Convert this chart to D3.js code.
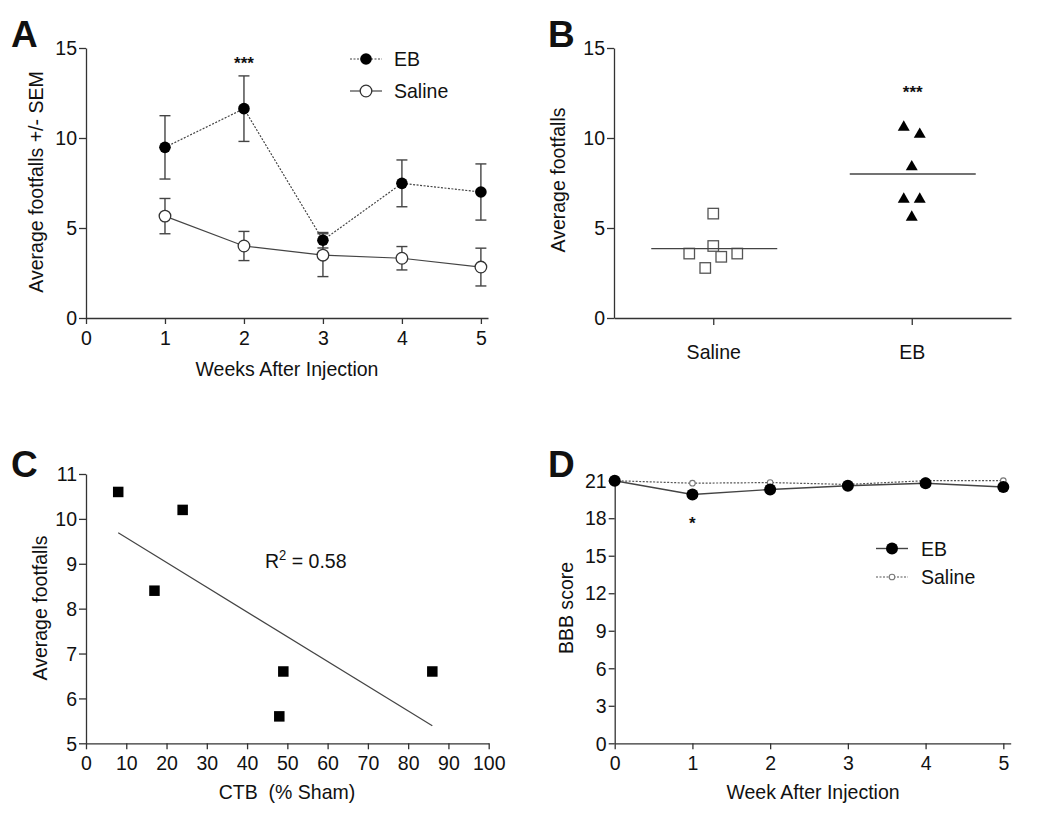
<!DOCTYPE html>
<html><head><meta charset="utf-8">
<script src="https://cdn.jsdelivr.net/npm/d3@7"></script>
<style>
body{margin:0;background:#fff;}
svg{display:block;}
text{font-family:"Liberation Sans",Arial,sans-serif;fill:#111;white-space:pre;}
.domain,.tick line{stroke:#333;stroke-width:1.3;}
</style></head><body>
<svg id="c" width="1050" height="830"></svg>
<script>
// ---------- DATA ----------
// Panel A
const weeksA = [1, 2, 3, 4, 5];
const ebMeanA = [9.48, 11.63, 4.32, 7.48, 7.0];
const ebSemA = [1.76, 1.82, 0.43, 1.30, 1.56];
const salMeanA = [5.66, 4.0, 3.49, 3.32, 2.83];
const salSemA = [0.98, 0.81, 1.19, 0.65, 1.05];
const ticksAx = [0, 1, 2, 3, 4, 5];
const ticksAy = [0, 5, 10, 15];
// Panel B
const groupsB = ["Saline", "EB"];
const salineB = [5.8, 4.0, 3.58, 2.78, 3.4, 3.58];
const ebB = [10.6, 10.2, 8.4, 6.6, 6.6, 5.6];
const ticksBy = [0, 5, 10, 15];
// Panel C
const ctbC = [8, 17, 24, 48, 49, 86];
const footC = [10.6, 8.4, 10.2, 5.6, 6.6, 6.6];
const ticksCx = [0, 10, 20, 30, 40, 50, 60, 70, 80, 90, 100];
const ticksCy = [5, 6, 7, 8, 9, 10, 11];
// Panel D
const weeksD = [0, 1, 2, 3, 4, 5];
const ebD = [21, 19.9, 20.3, 20.6, 20.8, 20.5];
const salD = [21, 20.8, 20.85, 20.7, 21, 21];
const ticksDy = [0, 3, 6, 9, 12, 15, 18, 21];

// ---------- DRAW ----------
const svg = d3.select("#c");
const F = 21, SX = 0.93;

// horizontally condense a text element about its own x anchor
function squeeze(sel){
  sel.each(function(){
    const t = d3.select(this);
    const x = +t.attr("x") || 0;
    t.attr("transform", `translate(${x},0) scale(${SX},1) translate(${-x},0)`);
  });
}
function axisStyle(g){
  g.attr("font-family", null);
  g.selectAll(".tick text").attr("font-size", F).attr("fill","#111").call(squeeze);
}
function panelLetter(t, x, y){
  svg.append("text").attr("x", x).attr("y", y).text(t)
    .attr("font-size", 37).attr("font-weight", "bold");
}
function yLabel(t, x, y){
  svg.append("text").attr("transform", `translate(${x},${y}) rotate(-90) scale(${SX},1)`)
    .attr("text-anchor","middle").attr("font-size", F).text(t);
}
function xLabel(t, x, y){
  svg.append("text").attr("x", x).attr("y", y).attr("text-anchor","middle").attr("font-size", F).text(t).call(squeeze);
}
function plainText(t, x, y, anchor){
  return svg.append("text").attr("x", x).attr("y", y).attr("text-anchor", anchor || "start").attr("font-size", F).text(t).call(squeeze);
}

// ===== Panel A =====
{
  const x = d3.scaleLinear().domain([0, 5.09]).range([86, 488]);
  const y = d3.scaleLinear().domain([0, 15]).range([318, 48]);
  svg.append("g").attr("transform","translate(0,318)")
    .call(d3.axisBottom(x).tickValues(ticksAx).tickFormat(d3.format("d")).tickSize(6).tickSizeOuter(0).tickPadding(6)).call(axisStyle);
  svg.append("g").attr("transform","translate(86,0)")
    .call(d3.axisLeft(y).tickValues(ticksAy).tickSize(7).tickSizeOuter(0).tickPadding(2)).call(axisStyle);
  const eb = weeksA.map((w,i)=>({x:w, m:ebMeanA[i], s:ebSemA[i]}));
  const sal = weeksA.map((w,i)=>({x:w, m:salMeanA[i], s:salSemA[i]}));
  const line = d3.line().x(d=>x(d.x)).y(d=>y(d.m));
  function errs(data){
    const g = svg.append("g").attr("stroke","#444").attr("stroke-width",1.4);
    data.forEach(d=>{
      g.append("line").attr("x1",x(d.x)).attr("x2",x(d.x)).attr("y1",y(d.m-d.s)).attr("y2",y(d.m+d.s));
      [d.m-d.s, d.m+d.s].forEach(v=>g.append("line").attr("x1",x(d.x)-5.5).attr("x2",x(d.x)+5.5).attr("y1",y(v)).attr("y2",y(v)));
    });
  }
  errs(sal); errs(eb);
  svg.append("path").datum(sal).attr("d",line).attr("fill","none").attr("stroke","#444").attr("stroke-width",1.2);
  svg.append("path").datum(eb).attr("d",line).attr("fill","none").attr("stroke","#444").attr("stroke-width",1.2).attr("stroke-dasharray","2,1.5");
  svg.append("g").selectAll("circle").data(sal).join("circle")
    .attr("cx",d=>x(d.x)).attr("cy",d=>y(d.m)).attr("r",5.8).attr("fill","#fff").attr("stroke","#333").attr("stroke-width",1.3);
  svg.append("g").selectAll("circle").data(eb).join("circle")
    .attr("cx",d=>x(d.x)).attr("cy",d=>y(d.m)).attr("r",5.8).attr("fill","#000");
  svg.append("text").attr("x", x(2)).attr("y", 69).attr("text-anchor","middle").attr("font-size",17).attr("font-weight","bold").text("***");
  // legend
  const lg = svg.append("g");
  lg.append("line").attr("x1",350).attr("x2",382).attr("y1",59).attr("y2",59).attr("stroke","#444").attr("stroke-width",1.2).attr("stroke-dasharray","2,1.5");
  lg.append("circle").attr("cx",366).attr("cy",59).attr("r",5.8).attr("fill","#000");
  plainText("EB", 394, 66.5);
  lg.append("line").attr("x1",350).attr("x2",382).attr("y1",91).attr("y2",91).attr("stroke","#444").attr("stroke-width",1.2);
  lg.append("circle").attr("cx",366).attr("cy",91).attr("r",5.8).attr("fill","#fff").attr("stroke","#333").attr("stroke-width",1.3);
  plainText("Saline", 394, 98.5);
  xLabel("Weeks After Injection", 287, 376);
  yLabel("Average footfalls +/- SEM", 43, 182);
  panelLetter("A", 11, 47);
}

// ===== Panel B =====
{
  const x = d3.scalePoint().domain(groupsB).range([614, 1011]).padding(0.5);
  const y = d3.scaleLinear().domain([0, 15]).range([318, 48]);
  svg.append("g").attr("transform","translate(0,318)")
    .call(d3.axisBottom(x).tickSize(7).tickSizeOuter(0).tickPadding(19)).call(axisStyle);
  svg.append("g").attr("transform","translate(614,0)")
    .call(d3.axisLeft(y).tickValues(ticksBy).tickSize(7).tickSizeOuter(0).tickPadding(2)).call(axisStyle);
  const size = 10.5;
  // simple column-scatter layout: points close in value share a row and are spread sideways
  function swarm(vals){
    const pts = vals.map((v,i)=>({v, i})).sort((a,b)=>a.v-b.v || a.i-b.i);
    const rows = [];
    pts.forEach(p=>{
      const r = rows[rows.length-1];
      if(r && Math.abs(y(r[0].v)-y(p.v)) < 12) r.push(p); else rows.push([p]);
    });
    rows.forEach(r=>{
      const n = r.length, step = 8*n;
      let order = r.slice();
      if(n % 2 === 1 && n > 1){ const mx = order.pop(); order.splice((n-1)/2, 0, mx); }
      else { order.sort((a,b)=>a.i-b.i); }
      order.forEach((p,k)=>{ p.dx = (k-(n-1)/2)*step; });
    });
    return pts;
  }
  const sp = swarm(salineB), ep = swarm(ebB);
  svg.append("g").selectAll("rect").data(sp).join("rect")
    .attr("x",d=>x("Saline")+d.dx-size/2).attr("y",d=>y(d.v)-size/2).attr("width",size).attr("height",size)
    .attr("fill","#fff").attr("stroke","#555").attr("stroke-width",1.3);
  const tri = d3.symbol().type(d3.symbolTriangle).size(62);
  svg.append("g").selectAll("path").data(ep).join("path")
    .attr("transform",d=>`translate(${x("EB")+d.dx},${y(d.v)})`).attr("d",tri).attr("fill","#000");
  [["Saline", d3.mean(salineB)],["EB", d3.mean(ebB)]].forEach(([g,m])=>{
    svg.append("line").attr("x1",x(g)-62).attr("x2",x(g)+64).attr("y1",y(m)).attr("y2",y(m)).attr("stroke","#444").attr("stroke-width",1.3);
  });
  svg.append("text").attr("x", x("EB")+1).attr("y", 98).attr("text-anchor","middle").attr("font-size",17).attr("font-weight","bold").text("***");
  yLabel("Average footfalls", 565, 180);
  panelLetter("B", 548, 47);
}

// ===== Panel C =====
{
  const x = d3.scaleLinear().domain([0, 100]).range([86, 488.7]);
  const y = d3.scaleLinear().domain([5, 11]).range([743.3, 474]);
  svg.append("g").attr("transform","translate(0,743.3)")
    .call(d3.axisBottom(x).tickValues(ticksCx).tickFormat(d3.format("d")).tickSize(6).tickSizeOuter(0).tickPadding(6)).call(axisStyle);
  svg.append("g").attr("transform","translate(86,0)")
    .call(d3.axisLeft(y).tickValues(ticksCy).tickFormat(d3.format("d")).tickSize(7).tickSizeOuter(0).tickPadding(2)).call(axisStyle);
  const pts = ctbC.map((c,i)=>({x:c, y:footC[i]}));
  const mx = d3.mean(ctbC), my = d3.mean(footC);
  const sxy = d3.sum(pts, p=>(p.x-mx)*(p.y-my)), sxx = d3.sum(pts, p=>(p.x-mx)**2), syy = d3.sum(pts, p=>(p.y-my)**2);
  const slope = sxy/sxx, icpt = my - slope*mx;
  const r2 = sxy*sxy/(sxx*syy);
  const x0 = d3.min(ctbC), x1 = d3.max(ctbC);
  svg.append("line").attr("x1",x(x0)).attr("x2",x(x1)).attr("y1",y(icpt+slope*x0)).attr("y2",y(icpt+slope*x1))
    .attr("stroke","#444").attr("stroke-width",1.2);
  const s = 10.5;
  svg.append("g").selectAll("rect").data(pts).join("rect")
    .attr("x",d=>x(d.x)-s/2).attr("y",d=>y(d.y)-s/2).attr("width",s).attr("height",s).attr("fill","#000");
  const t = plainText("", 265, 568);
  t.append("tspan").text("R");
  t.append("tspan").attr("font-size",14).attr("dy",-8).text("2");
  t.append("tspan").attr("dy",8).text(" = " + d3.format(".2f")(r2));
  xLabel("CTB  (% Sham)", 287, 799);
  yLabel("Average footfalls", 47, 608);
  panelLetter("C", 11, 477);
}

// ===== Panel D =====
{
  const x = d3.scaleLinear().domain([0, 5.095]).range([614.7, 1010.7]);
  const y = d3.scaleLinear().domain([0, 21]).range([743.3, 480.7]);
  svg.append("g").attr("transform","translate(0,743.3)")
    .call(d3.axisBottom(x).tickValues(weeksD).tickFormat(d3.format("d")).tickSize(6).tickSizeOuter(0).tickPadding(6)).call(axisStyle);
  svg.append("g").attr("transform","translate(614.7,0)")
    .call(d3.axisLeft(y).tickValues(ticksDy).tickSize(6).tickSizeOuter(0).tickPadding(2)).call(axisStyle);
  const eb = weeksD.map((w,i)=>({x:w, v:ebD[i]}));
  const sal = weeksD.map((w,i)=>({x:w, v:salD[i]}));
  const line = d3.line().x(d=>x(d.x)).y(d=>y(d.v));
  svg.append("path").datum(sal).attr("d",line).attr("fill","none").attr("stroke","#555").attr("stroke-width",1.2).attr("stroke-dasharray","2,1.5");
  svg.append("path").datum(eb).attr("d",line).attr("fill","none").attr("stroke","#444").attr("stroke-width",1.4);
  svg.append("g").selectAll("circle").data(sal).join("circle")
    .attr("cx",d=>x(d.x)).attr("cy",d=>y(d.v)).attr("r",2.8).attr("fill","#fff").attr("stroke","#777").attr("stroke-width",1.1);
  svg.append("g").selectAll("circle").data(eb).join("circle")
    .attr("cx",d=>x(d.x)).attr("cy",d=>y(d.v)).attr("r",6).attr("fill","#000");
  svg.append("text").attr("x", x(1)).attr("y", 529).attr("text-anchor","middle").attr("font-size",17).attr("font-weight","bold").text("*");
  const lg = svg.append("g");
  lg.append("line").attr("x1",876).attr("x2",908).attr("y1",548.5).attr("y2",548.5).attr("stroke","#444").attr("stroke-width",1.4);
  lg.append("circle").attr("cx",892).attr("cy",548.5).attr("r",6).attr("fill","#000");
  plainText("EB", 921, 556);
  lg.append("line").attr("x1",876).attr("x2",908).attr("y1",577).attr("y2",577).attr("stroke","#555").attr("stroke-width",1.2).attr("stroke-dasharray","2,1.5");
  lg.append("circle").attr("cx",892).attr("cy",577).attr("r",2.8).attr("fill","#fff").attr("stroke","#777").attr("stroke-width",1.1);
  plainText("Saline", 921, 584.5);
  xLabel("Week After Injection", 813, 799);
  yLabel("BBB score", 573, 608);
  panelLetter("D", 548, 477);
}
</script></body></html>
